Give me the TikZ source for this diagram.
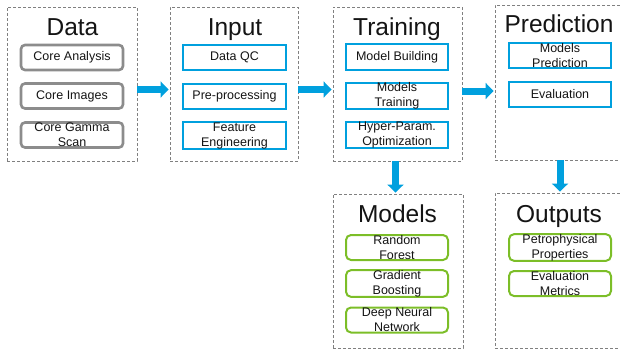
\documentclass[tikz,border=0pt]{standalone}
\usepackage{fontspec}
\setmainfont{Liberation Sans}
\usetikzlibrary{arrows.meta}

\definecolor{frameGray}{RGB}{128,128,128}
\definecolor{boxGray}{RGB}{140,140,140}
\definecolor{flowBlue}{RGB}{0,160,222}
\definecolor{modelGreen}{RGB}{124,190,40}
\definecolor{inkText}{RGB}{20,20,20}

\tikzset{
  stage/.style={draw=frameGray, line width=0.9pt, dash pattern=on 3pt off 2pt,
    minimum width=#1, minimum height=154pt, inner sep=0pt},
  stagetitle/.style={anchor=base, text=inkText, font=\fontsize{24.5}{28}\selectfont},
  item/.style={minimum width=102pt, minimum height=25pt, inner sep=0pt,
    align=center, text=inkText, font=\fontsize{12.5}{15}\selectfont},
  srcbox/.style={item, draw=boxGray, line width=2.6pt, rounded corners=4pt},
  procbox/.style={item, draw=flowBlue, line width=2pt},
  resbox/.style={item, draw=modelGreen, line width=2pt, rounded corners=5pt},
  flow/.style={draw=flowBlue, line width=7pt,
    -{Triangle[length=8pt, width=16pt]}, shorten >=1pt},
}

\begin{document}
\begin{tikzpicture}[x=1pt, y=-1pt]
  \useasboundingbox (0,0) rectangle (620,349);
  \clip (0,0) rectangle (620,349);

  % stage frames
  \node[stage=130pt] (data)  at (72,84)    {};
  \node[stage=128pt] (input) at (234,84)   {};
  \node[stage=129pt] (train) at (397.5,84) {};
  \node[stage=130pt, minimum height=155pt] (pred) at (560,82.5) {};
  \node[stage=130pt] (models)  at (398,271) {};
  \node[stage=130pt, minimum height=155pt] (outputs) at (560,270.5) {};

  % titles
  \node[stagetitle] (tData)  at (72.5,35)  {Data};
  \node[stagetitle] (tInput) at (235,35)   {Input};
  \node[stagetitle] (tTrain) at (397,35)   {Training};
  \node[stagetitle] (tPred)  at (559,32)   {Prediction};
  \node[stagetitle] (tModels)  at (397.5,222) {Models};
  \node[stagetitle] (tOutputs) at (559,222)   {Outputs};

  % data sources
  \node[srcbox] (d1) at (72,57.5) {Core Analysis};
  \node[srcbox] (d2) at (72,96)   {Core Images};
  \node[srcbox] (d3) at (72,135)  {Core Gamma\\Scan};

  % input steps
  \node[procbox, minimum width=103pt] (i1) at (234.5,57.5) {Data QC};
  \node[procbox, minimum width=103pt] (i2) at (234.5,96.5) {Pre-processing};
  \node[procbox, minimum width=103pt] (i3) at (234.5,135.5) {Feature\\Engineering};

  % training steps
  \node[procbox, minimum height=26pt] (t1) at (397,57)  {Model Building};
  \node[procbox, minimum height=26pt] (t2) at (397,96)  {Models\\Training};
  \node[procbox, minimum height=26pt] (t3) at (397,135) {Hyper-Param.\\Optimization};

  % prediction steps
  \node[procbox] (p1) at (560,55.5) {Models\\Prediction};
  \node[procbox] (p2) at (560,94.5) {Evaluation};

  % model families
  \node[resbox] (m1) at (397,247.5) {Random\\Forest};
  \node[resbox] (m2) at (397,283.5) {Gradient\\Boosting};
  \node[resbox] (m3) at (397,320)   {Deep Neural\\Network};

  % outputs
  \node[resbox] (o1) at (560,247.5) {Petrophysical\\Properties};
  \node[resbox] (o2) at (560,283.5) {Evaluation\\Metrics};

  % flow arrows
  \draw[flow] ([yshift=-5.5pt]data.east)  -- ([yshift=-5.5pt]input.west);
  \draw[flow] ([yshift=-5.5pt]input.east) -- ([yshift=-5.5pt]train.west);
  \draw[flow] ([yshift=-7pt]train.east)   -- ([yshift=-7pt]train.east -| pred.west);
  \draw[flow] ([xshift=-2pt]train.south)  -- ([xshift=-2pt]train.south |- models.north);
  \draw[flow] (pred.south) -- (outputs.north);
\end{tikzpicture}
\end{document}
